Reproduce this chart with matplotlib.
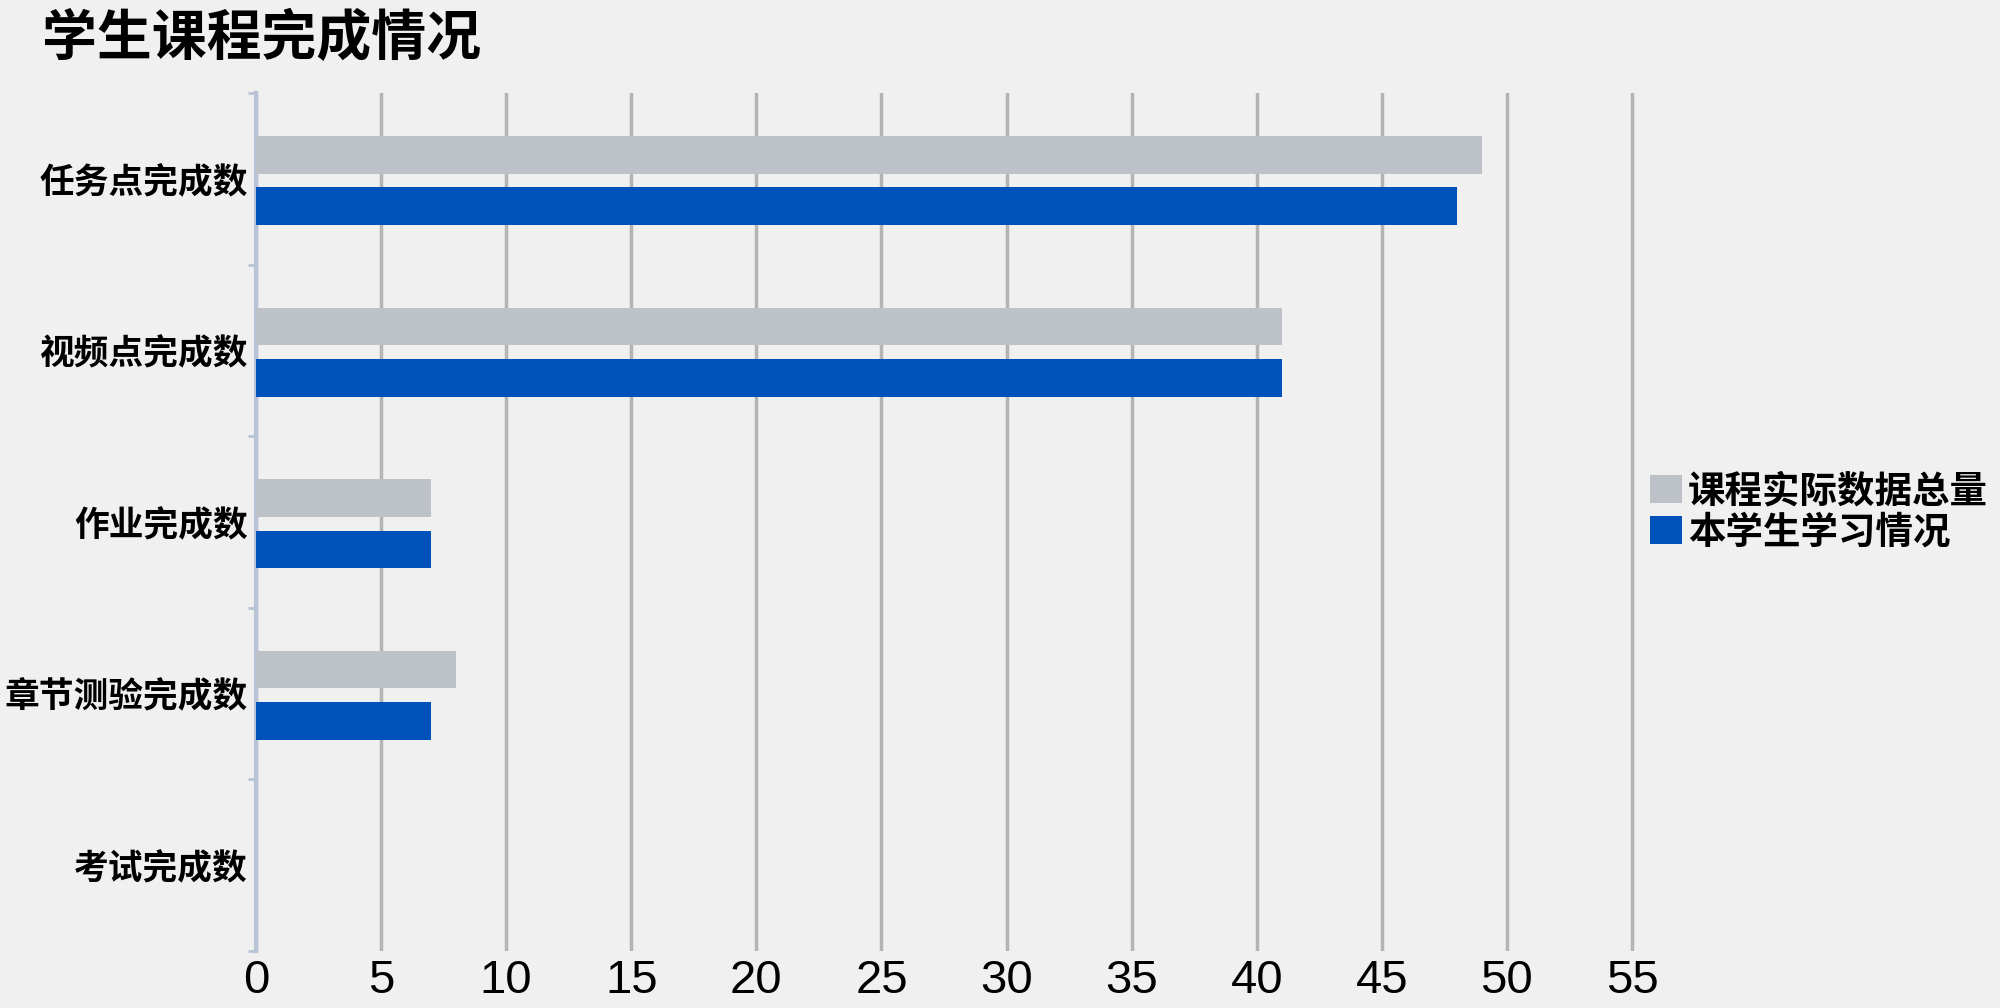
import numpy as np
import matplotlib
matplotlib.use('Agg')
import matplotlib.pyplot as plt
from matplotlib.patches import Patch

plt.rcParams['font.family'] = ['Noto Sans CJK SC', 'DejaVu Sans']

# Data
categories = ['任务点完成数', '视频点完成数', '作业完成数', '章节测验完成数', '考试完成数']
course_total = [49, 41, 7, 8, 0]
student_done = [48, 41, 7, 7, 0]
series_names = ['课程实际数据总量', '本学生学习情况']
x_ticks = [0, 5, 10, 15, 20, 25, 30, 35, 40, 45, 50, 55]

bg = '#f0f0f0'
gray = '#bcc2c7'
blue = '#0052bb'

fig = plt.figure(figsize=(20, 10.08), dpi=100, facecolor=bg)
ax = fig.add_axes([0.128, 0.0565, 0.7005, 0.8512], facecolor=bg)

y = np.arange(len(categories))
bar_h = 0.22
ax.barh(y - 0.14, course_total, height=bar_h, color=gray, zorder=3)
ax.barh(y + 0.16, student_done, height=bar_h, color=blue, zorder=3)

ax.set_ylim(len(categories) - 0.5, -0.5)
ax.set_xlim(0, 56)

ax.set_xticks(x_ticks)
ax.set_xticklabels([str(t) for t in x_ticks], family='Liberation Sans', fontsize=34)
ax.tick_params(axis='x', length=0, pad=6)

ax.set_yticks(y)
ax.set_yticklabels(categories, fontsize=25, fontweight='bold')
ax.tick_params(axis='y', which='major', length=0, pad=6)
ax.set_yticks(np.arange(len(categories) + 1) - 0.5, minor=True)
ax.tick_params(axis='y', which='minor', length=6, width=2, color='#b8c4d6')

ax.grid(axis='x', color='#b4b4b4', linewidth=2.5, zorder=0)

for s in ['top', 'right', 'bottom']:
    ax.spines[s].set_visible(False)
ax.spines['left'].set_color('#b8c4d6')
ax.spines['left'].set_linewidth(3)

fig.text(0.021, 0.962, '学生课程完成情况', fontsize=39.5, fontweight='bold', va='center', ha='left')

handles = [Patch(facecolor=gray, label=series_names[0]),
           Patch(facecolor=blue, label=series_names[1])]
fig.legend(handles=handles, loc='center left', bbox_to_anchor=(0.8155, 0.493),
           frameon=False, prop={'size': 27, 'weight': 'bold'},
           handlelength=0.85, handleheight=0.8, handletextpad=0.16,
           labelspacing=0.06, borderpad=0)

fig.savefig('out.png', dpi=100, facecolor=bg)
